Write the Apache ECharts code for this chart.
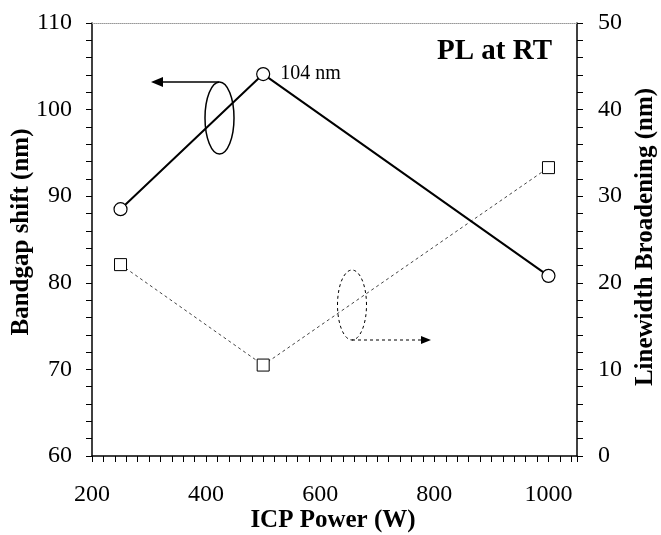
<!DOCTYPE html>
<html>
<head>
<meta charset="UTF-8">
<title>ICP Power</title>
<script src="https://cdn.jsdelivr.net/npm/echarts@6/dist/echarts.min.js"></script>
<style>
  html, body { margin: 0; padding: 0; background: #fff; }
  #main { width: 661px; height: 535px; }
</style>
</head>
<body>
<div id="main"></div>
<script>
// ICP power (W)
var power = [250, 500, 1000];
// bandgap shift (nm), left axis
var bandgapShift = [88.5, 104.1, 80.8];
// linewidth broadening (nm), right axis
var broadening = [22.1, 10.5, 33.3];
var xLabels = [200, 400, 600, 800, 1000];

var serif = '"Liberation Serif", "Times New Roman", serif';

var chart = echarts.init(document.getElementById('main'));

function pairs(xs, ys) {
  var out = [];
  for (var i = 0; i < xs.length; i++) out.push([xs[i], ys[i]]);
  return out;
}

var axisBase = {
  axisLine: { lineStyle: { color: '#000', width: 1.5 } },
  axisTick: { length: 6, lineStyle: { color: '#000', width: 1 } },
  splitLine: { show: false }
};

var option = {
  animation: false,
  grid: { left: 92, right: 84, top: 23, bottom: 79 },
  xAxis: [
    Object.assign({}, axisBase, {
      type: 'value', min: 200, max: 1050, interval: 20,
      axisLabel: {
        color: '#000', fontFamily: serif, fontSize: 24, margin: 27,
        formatter: function (v) { return xLabels.indexOf(v) >= 0 ? String(v) : ''; }
      }
    }),
    {
      type: 'value', position: 'top', min: 200, max: 1050,
      axisLine: { show: true, lineStyle: { color: '#999', width: 1, type: 'dotted' } },
      axisTick: { show: false }, axisLabel: { show: false }, splitLine: { show: false }
    }
  ],
  yAxis: [
    Object.assign({}, axisBase, {
      type: 'value', min: 60, max: 110, interval: 10,
      minorTick: { show: true, splitNumber: 5, length: 6, lineStyle: { color: '#000' } },
      axisLabel: { color: '#000', fontFamily: serif, fontSize: 24, margin: 20 }
    }),
    Object.assign({}, axisBase, {
      type: 'value', position: 'right', min: 0, max: 50, interval: 10,
      minorTick: { show: true, splitNumber: 5, length: 6, lineStyle: { color: '#000' } },
      axisLabel: { color: '#000', fontFamily: serif, fontSize: 24, margin: 21 }
    })
  ],
  series: [
    {
      name: 'Bandgap shift', type: 'line', xAxisIndex: 0, yAxisIndex: 0,
      data: pairs(power, bandgapShift),
      symbol: 'circle', symbolSize: 13,
      lineStyle: { color: '#000', width: 2 },
      itemStyle: { color: '#fff', borderColor: '#000', borderWidth: 1.2 },
      label: {
        show: true, position: 'right', distance: 10,
        fontFamily: serif, fontSize: 20, color: '#000',
        formatter: function (p) { return p.dataIndex === 1 ? '104 nm' : ''; }
      },
      z: 3
    },
    {
      name: 'Linewidth broadening', type: 'line', xAxisIndex: 0, yAxisIndex: 1,
      data: pairs(power, broadening),
      symbol: 'rect', symbolSize: 12,
      lineStyle: { color: '#444', width: 1, type: [3, 3] },
      itemStyle: { color: '#fff', borderColor: '#000', borderWidth: 1 },
      z: 2
    }
  ],
  graphic: [
    { type: 'text', x: 437, y: 52,
      style: { text: 'PL at RT', font: 'bold 29px ' + serif, fill: '#000',
               align: 'left', verticalAlign: 'middle' } },
    // left bracket ellipse + arrow
    { type: 'ellipse', shape: { cx: 219.5, cy: 118, rx: 14.5, ry: 36 },
      style: { fill: 'none', stroke: '#000', lineWidth: 1.5 } },
    { type: 'line', shape: { x1: 219, y1: 82, x2: 160, y2: 82 },
      style: { stroke: '#000', lineWidth: 1.5 } },
    { type: 'polygon', shape: { points: [[151, 82], [163, 77], [163, 87]] },
      style: { fill: '#000' } },
    // right bracket ellipse + arrow (dashed)
    { type: 'ellipse', shape: { cx: 352, cy: 305, rx: 14.5, ry: 35 },
      style: { fill: 'none', stroke: '#000', lineWidth: 1, lineDash: [3, 3] } },
    { type: 'line', shape: { x1: 352, y1: 340, x2: 422, y2: 340 },
      style: { stroke: '#000', lineWidth: 1, lineDash: [3, 3] } },
    { type: 'polygon', shape: { points: [[431, 340], [421, 336], [421, 344]] },
      style: { fill: '#000' } },
    // axis titles
    { type: 'text', x: 22, y: 232, rotation: Math.PI / 2,
      style: { text: 'Bandgap shift (nm)', font: 'bold 25px ' + serif, fill: '#000',
               align: 'center', verticalAlign: 'middle' } },
    { type: 'text', x: 646, y: 237, rotation: Math.PI / 2,
      style: { text: 'Linewidth Broadening (nm)', font: 'bold 25px ' + serif, fill: '#000',
               align: 'center', verticalAlign: 'middle' } },
    { type: 'text', x: 333, y: 521,
      style: { text: 'ICP Power (W)', font: 'bold 25px ' + serif, fill: '#000',
               align: 'center', verticalAlign: 'middle' } }
  ]
};

chart.setOption(option);
</script>
</body>
</html>
